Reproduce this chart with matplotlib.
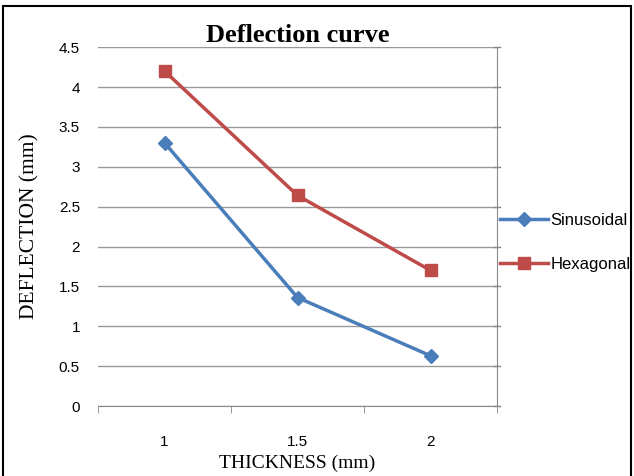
import matplotlib.pyplot as plt
from matplotlib.patches import Rectangle

thickness = ['1', '1.5', '2']
sinusoidal = [3.3, 1.36, 0.63]
hexagonal = [4.2, 2.64, 1.70]

fig = plt.figure(figsize=(6.34, 4.76), dpi=100)
ax = fig.add_axes([0.1546, 0.147, 0.6294, 0.754])

x = range(len(thickness))
ax.plot(x, sinusoidal, color='#4A7EBB', linewidth=2.5, marker='D', markersize=7, label='Sinusoidal')
ax.plot(x, hexagonal, color='#BE4B48', linewidth=2.5, marker='s', markersize=9, label='Hexagonal')

ax.set_xlim(-0.5, 2.5)
ax.set_ylim(0, 4.5)
ax.set_yticks([i * 0.5 for i in range(10)])
ax.set_yticklabels(['0', '0.5', '1', '1.5', '2', '2.5', '3', '3.5', '4', '4.5'])
ax.set_xticks(list(x))
ax.set_xticklabels(thickness)
ax.set_xticks([-0.5, 0.5, 1.5, 2.5], minor=True)
ax.tick_params(axis='x', which='major', length=0, pad=21, labelsize=11, labelfontfamily='Liberation Sans')
ax.tick_params(axis='x', which='minor', length=5, color='#888888', direction='out')
ax.tick_params(axis='y', length=0, pad=13, labelsize=11, labelfontfamily='Liberation Sans')

ax.grid(axis='y', color='#999999', linewidth=1)
ax.spines['left'].set_visible(False)
ax.spines['top'].set_visible(False)
ax.spines['bottom'].set_color('#888888')
ax.spines['right'].set_color('#888888')

# cross tick marks on the right-hand value axis
for v in ax.get_yticks():
    ax.plot([2.48, 2.52], [v, v], color='#888888', linewidth=1, clip_on=False)

ax.set_title('Deflection curve', fontsize=19, fontweight='bold', family='Liberation Serif', pad=3)
ax.set_xlabel('THICKNESS (mm)', fontsize=14, family='Liberation Serif', labelpad=4)
ax.set_ylabel('DEFLECTION (mm)', fontsize=15.5, family='Liberation Serif', labelpad=14)

leg = ax.legend(loc='center left', bbox_to_anchor=(0.99, 0.455), frameon=False,
                prop={'family': 'Liberation Sans', 'size': 12}, handlelength=2.9,
                handletextpad=0.15, labelspacing=1.75, borderaxespad=0.0)

fig.patches.append(Rectangle((0.005, -0.01), 0.99, 0.997, transform=fig.transFigure,
                             fill=False, edgecolor='black', linewidth=1.5))

plt.savefig('out.png', dpi=100)
